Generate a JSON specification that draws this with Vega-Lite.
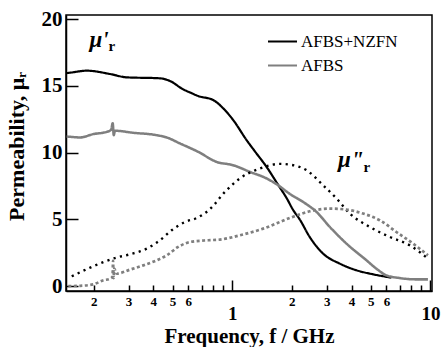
{
  "$schema": "https://vega.github.io/schema/vega-lite/v6.json",
  "width": 366,
  "height": 276,
  "autosize": {"type": "none"},
  "padding": {"left": 66, "top": 15, "right": 9, "bottom": 56},
  "background": "white",
  "config": {
    "view": {"stroke": "black", "strokeWidth": 1.5},
    "axis": {
      "grid": false,
      "domainColor": "black",
      "domainWidth": 1.5,
      "tickColor": "black",
      "tickWidth": 1.5,
      "labelColor": "black",
      "titleColor": "black",
      "labelFont": "Liberation Serif",
      "titleFont": "Liberation Serif",
      "labelFontWeight": "bold",
      "titleFontWeight": "bold"
    }
  },
  "layer": [
    {
      "data": {
        "values": [
          {"sample": "AFBS+NZFN", "series": "n_re", "f": 0.146, "mu": 15.95},
          {"sample": "AFBS+NZFN", "series": "n_re", "f": 0.152, "mu": 15.98},
          {"sample": "AFBS+NZFN", "series": "n_re", "f": 0.185, "mu": 16.13},
          {"sample": "AFBS+NZFN", "series": "n_re", "f": 0.242, "mu": 15.88},
          {"sample": "AFBS+NZFN", "series": "n_re", "f": 0.294, "mu": 15.63},
          {"sample": "AFBS+NZFN", "series": "n_re", "f": 0.432, "mu": 15.56},
          {"sample": "AFBS+NZFN", "series": "n_re", "f": 0.485, "mu": 15.36},
          {"sample": "AFBS+NZFN", "series": "n_re", "f": 0.566, "mu": 14.73},
          {"sample": "AFBS+NZFN", "series": "n_re", "f": 0.612, "mu": 14.5},
          {"sample": "AFBS+NZFN", "series": "n_re", "f": 0.674, "mu": 14.23},
          {"sample": "AFBS+NZFN", "series": "n_re", "f": 0.802, "mu": 13.93},
          {"sample": "AFBS+NZFN", "series": "n_re", "f": 0.901, "mu": 13.31},
          {"sample": "AFBS+NZFN", "series": "n_re", "f": 1.012, "mu": 12.43},
          {"sample": "AFBS+NZFN", "series": "n_re", "f": 1.182, "mu": 10.93},
          {"sample": "AFBS+NZFN", "series": "n_re", "f": 1.3, "mu": 10.1},
          {"sample": "AFBS+NZFN", "series": "n_re", "f": 1.49, "mu": 8.93},
          {"sample": "AFBS+NZFN", "series": "n_re", "f": 1.71, "mu": 7.55},
          {"sample": "AFBS+NZFN", "series": "n_re", "f": 1.88, "mu": 6.6},
          {"sample": "AFBS+NZFN", "series": "n_re", "f": 2.03, "mu": 5.7},
          {"sample": "AFBS+NZFN", "series": "n_re", "f": 2.19, "mu": 5.0},
          {"sample": "AFBS+NZFN", "series": "n_re", "f": 2.46, "mu": 3.68},
          {"sample": "AFBS+NZFN", "series": "n_re", "f": 2.875, "mu": 2.43},
          {"sample": "AFBS+NZFN", "series": "n_re", "f": 3.49, "mu": 1.68},
          {"sample": "AFBS+NZFN", "series": "n_re", "f": 4.24, "mu": 1.18},
          {"sample": "AFBS+NZFN", "series": "n_re", "f": 5.14, "mu": 0.88},
          {"sample": "AFBS+NZFN", "series": "n_re", "f": 6.36, "mu": 0.63},

          {"sample": "AFBS", "series": "a_re", "f": 0.146, "mu": 11.2},
          {"sample": "AFBS", "series": "a_re", "f": 0.152, "mu": 11.18},
          {"sample": "AFBS", "series": "a_re", "f": 0.171, "mu": 11.13},
          {"sample": "AFBS", "series": "a_re", "f": 0.199, "mu": 11.38},
          {"sample": "AFBS", "series": "a_re", "f": 0.233, "mu": 11.55},
          {"sample": "AFBS", "series": "a_re", "f": 0.245, "mu": 11.7},
          {"sample": "AFBS", "series": "a_re", "f": 0.2495, "mu": 12.2},
          {"sample": "AFBS", "series": "a_re", "f": 0.2525, "mu": 11.3},
          {"sample": "AFBS", "series": "a_re", "f": 0.256, "mu": 11.63},
          {"sample": "AFBS", "series": "a_re", "f": 0.317, "mu": 11.48},
          {"sample": "AFBS", "series": "a_re", "f": 0.416, "mu": 11.3},
          {"sample": "AFBS", "series": "a_re", "f": 0.467, "mu": 11.13},
          {"sample": "AFBS", "series": "a_re", "f": 0.545, "mu": 10.68},
          {"sample": "AFBS", "series": "a_re", "f": 0.674, "mu": 10.05},
          {"sample": "AFBS", "series": "a_re", "f": 0.834, "mu": 9.3},
          {"sample": "AFBS", "series": "a_re", "f": 1.012, "mu": 9.05},
          {"sample": "AFBS", "series": "a_re", "f": 1.228, "mu": 8.55},
          {"sample": "AFBS", "series": "a_re", "f": 1.491, "mu": 8.06},
          {"sample": "AFBS", "series": "a_re", "f": 1.706, "mu": 7.55},
          {"sample": "AFBS", "series": "a_re", "f": 1.954, "mu": 6.9},
          {"sample": "AFBS", "series": "a_re", "f": 2.28, "mu": 6.3},
          {"sample": "AFBS", "series": "a_re", "f": 2.664, "mu": 5.55},
          {"sample": "AFBS", "series": "a_re", "f": 3.108, "mu": 4.43},
          {"sample": "AFBS", "series": "a_re", "f": 3.773, "mu": 3.18},
          {"sample": "AFBS", "series": "a_re", "f": 4.759, "mu": 1.93},
          {"sample": "AFBS", "series": "a_re", "f": 5.343, "mu": 1.3},
          {"sample": "AFBS", "series": "a_re", "f": 6.0, "mu": 0.8},
          {"sample": "AFBS", "series": "a_re", "f": 7.0, "mu": 0.6},
          {"sample": "AFBS", "series": "a_re", "f": 8.5, "mu": 0.5},
          {"sample": "AFBS", "series": "a_re", "f": 9.72, "mu": 0.5},

          {"sample": "AFBS+NZFN", "series": "n_im", "f": 0.155, "mu": 0.73},
          {"sample": "AFBS+NZFN", "series": "n_im", "f": 0.192, "mu": 1.38},
          {"sample": "AFBS+NZFN", "series": "n_im", "f": 0.224, "mu": 1.8},
          {"sample": "AFBS+NZFN", "series": "n_im", "f": 0.256, "mu": 2.1},
          {"sample": "AFBS+NZFN", "series": "n_im", "f": 0.305, "mu": 2.38},
          {"sample": "AFBS+NZFN", "series": "n_im", "f": 0.37, "mu": 2.8},
          {"sample": "AFBS+NZFN", "series": "n_im", "f": 0.432, "mu": 3.43},
          {"sample": "AFBS+NZFN", "series": "n_im", "f": 0.495, "mu": 4.18},
          {"sample": "AFBS+NZFN", "series": "n_im", "f": 0.578, "mu": 4.8},
          {"sample": "AFBS+NZFN", "series": "n_im", "f": 0.662, "mu": 5.1},
          {"sample": "AFBS+NZFN", "series": "n_im", "f": 0.757, "mu": 5.65},
          {"sample": "AFBS+NZFN", "series": "n_im", "f": 0.937, "mu": 7.18},
          {"sample": "AFBS+NZFN", "series": "n_im", "f": 1.093, "mu": 8.06},
          {"sample": "AFBS+NZFN", "series": "n_im", "f": 1.379, "mu": 8.8},
          {"sample": "AFBS+NZFN", "series": "n_im", "f": 1.739, "mu": 9.15},
          {"sample": "AFBS+NZFN", "series": "n_im", "f": 2.03, "mu": 9.05},
          {"sample": "AFBS+NZFN", "series": "n_im", "f": 2.37, "mu": 8.68},
          {"sample": "AFBS+NZFN", "series": "n_im", "f": 2.875, "mu": 7.55},
          {"sample": "AFBS+NZFN", "series": "n_im", "f": 3.36, "mu": 6.56},
          {"sample": "AFBS+NZFN", "series": "n_im", "f": 3.92, "mu": 5.43},
          {"sample": "AFBS+NZFN", "series": "n_im", "f": 4.94, "mu": 4.43},
          {"sample": "AFBS+NZFN", "series": "n_im", "f": 6.24, "mu": 3.68},
          {"sample": "AFBS+NZFN", "series": "n_im", "f": 7.87, "mu": 3.05},
          {"sample": "AFBS+NZFN", "series": "n_im", "f": 9.72, "mu": 2.06},

          {"sample": "AFBS", "series": "a_im", "f": 0.149, "mu": 0.0},
          {"sample": "AFBS", "series": "a_im", "f": 0.171, "mu": 0.02},
          {"sample": "AFBS", "series": "a_im", "f": 0.199, "mu": 0.13},
          {"sample": "AFBS", "series": "a_im", "f": 0.224, "mu": 0.43},
          {"sample": "AFBS", "series": "a_im", "f": 0.242, "mu": 0.55},
          {"sample": "AFBS", "series": "a_im", "f": 0.249, "mu": 0.7},
          {"sample": "AFBS", "series": "a_im", "f": 0.2505, "mu": 1.9},
          {"sample": "AFBS", "series": "a_im", "f": 0.252, "mu": 0.6},
          {"sample": "AFBS", "series": "a_im", "f": 0.254, "mu": 1.3},
          {"sample": "AFBS", "series": "a_im", "f": 0.2615, "mu": 0.93},
          {"sample": "AFBS", "series": "a_im", "f": 0.305, "mu": 1.23},
          {"sample": "AFBS", "series": "a_im", "f": 0.356, "mu": 1.55},
          {"sample": "AFBS", "series": "a_im", "f": 0.416, "mu": 1.93},
          {"sample": "AFBS", "series": "a_im", "f": 0.467, "mu": 2.3},
          {"sample": "AFBS", "series": "a_im", "f": 0.534, "mu": 2.93},
          {"sample": "AFBS", "series": "a_im", "f": 0.612, "mu": 3.3},
          {"sample": "AFBS", "series": "a_im", "f": 0.757, "mu": 3.43},
          {"sample": "AFBS", "series": "a_im", "f": 0.867, "mu": 3.48},
          {"sample": "AFBS", "series": "a_im", "f": 1.093, "mu": 3.8},
          {"sample": "AFBS", "series": "a_im", "f": 1.433, "mu": 4.3},
          {"sample": "AFBS", "series": "a_im", "f": 1.954, "mu": 5.1},
          {"sample": "AFBS", "series": "a_im", "f": 2.464, "mu": 5.6},
          {"sample": "AFBS", "series": "a_im", "f": 3.108, "mu": 5.8},
          {"sample": "AFBS", "series": "a_im", "f": 3.773, "mu": 5.73},
          {"sample": "AFBS", "series": "a_im", "f": 4.574, "mu": 5.43},
          {"sample": "AFBS", "series": "a_im", "f": 5.553, "mu": 4.93},
          {"sample": "AFBS", "series": "a_im", "f": 6.739, "mu": 4.05},
          {"sample": "AFBS", "series": "a_im", "f": 8.175, "mu": 3.18},
          {"sample": "AFBS", "series": "a_im", "f": 9.72, "mu": 2.3}
        ]
      },
      "mark": {"type": "line", "strokeCap": "butt", "interpolate": "monotone"},
      "encoding": {
        "x": {
          "field": "f",
          "type": "quantitative",
          "scale": {"type": "log", "domain": [0.145, 10.19], "nice": false},
          "axis": {
            "values": [0.2, 0.3, 0.4, 0.5, 0.6, 0.7, 0.8, 0.9, 1, 2, 3, 4, 5, 6, 7, 8, 9, 10],
            "labelExpr": "datum.value == 1 ? '1' : datum.value == 10 ? '10' : (datum.value < 0.65) ? format(datum.value * 10, '.0f') : (datum.value > 1 && datum.value < 6.5) ? format(datum.value, '.0f') : ''",
            "labelFlush": false,
            "labelOverlap": false,
            "labelFontSize": {"condition": {"test": "datum.value == 1 || datum.value == 10", "value": 19}, "value": 13},
            "tickSize": {"condition": {"test": "datum.value == 1 || datum.value == 10", "value": -11}, "value": -6},
            "labelPadding": {"condition": {"test": "datum.value == 1 || datum.value == 10", "value": 24}, "value": 10},
            "title": "Frequency, f / GHz",
            "titleFontSize": 21,
            "titleY": 51,
            "titleBaseline": "alphabetic"
          }
        },
        "y": {
          "field": "mu",
          "type": "quantitative",
          "scale": {"domain": [-0.37, 20.3], "nice": false, "zero": false},
          "axis": {
            "values": [0, 5, 10, 15, 20],
            "tickSize": -12,
            "labelPadding": 16,
            "labelFontSize": 21,
            "title": "Permeability, μᵣ",
            "titleFontSize": 22,
            "titleX": -50,
            "titleY": 131,
            "titleAngle": -90,
            "titleAlign": "center",
            "titleBaseline": "middle"
          }
        },
        "color": {
          "field": "sample",
          "type": "nominal",
          "scale": {"domain": ["AFBS+NZFN", "AFBS"], "range": ["#000000", "#7f7f7f"]},
          "legend": {
            "orient": "none",
            "legendX": 201,
            "legendY": 11,
            "title": null,
            "symbolType": "stroke",
            "symbolSize": 841,
            "symbolStrokeWidth": 2,
            "labelFont": "Liberation Serif",
            "labelFontSize": 17,
            "labelColor": "black",
            "labelOffset": 3,
            "rowPadding": -6
          }
        },
        "strokeDash": {
          "field": "series",
          "type": "nominal",
          "scale": {"domain": ["n_re", "n_im", "a_re", "a_im"], "range": [[1, 0], [2.2, 4.3], [1, 0], [3, 2.5]]},
          "legend": null
        },
        "strokeWidth": {
          "field": "series",
          "type": "ordinal",
          "scale": {"domain": ["n_re", "n_im", "a_re", "a_im"], "range": [2.2, 2.7, 1.3, 1.1]},
          "legend": null
        }
      }
    },
    {
      "data": {"values": [{"f": 0.213, "mu": 18.43, "t": "μ'"}, {"f": 3.97, "mu": 9.43, "t": "μ\""}]},
      "mark": {"type": "text", "font": "Liberation Serif", "fontWeight": "bold", "fontStyle": "italic", "fontSize": 23, "align": "center", "baseline": "middle", "color": "black"},
      "encoding": {
        "x": {"field": "f", "type": "quantitative"},
        "y": {"field": "mu", "type": "quantitative"},
        "text": {"field": "t"}
      }
    },
    {
      "data": {"values": [{"f": 0.2466, "mu": 18.0, "t": "r"}, {"f": 4.78, "mu": 8.9, "t": "r"}]},
      "mark": {"type": "text", "font": "Liberation Serif", "fontWeight": "bold", "fontSize": 15, "align": "center", "baseline": "middle", "color": "black"},
      "encoding": {
        "x": {"field": "f", "type": "quantitative"},
        "y": {"field": "mu", "type": "quantitative"},
        "text": {"field": "t"}
      }
    }
  ]
}
